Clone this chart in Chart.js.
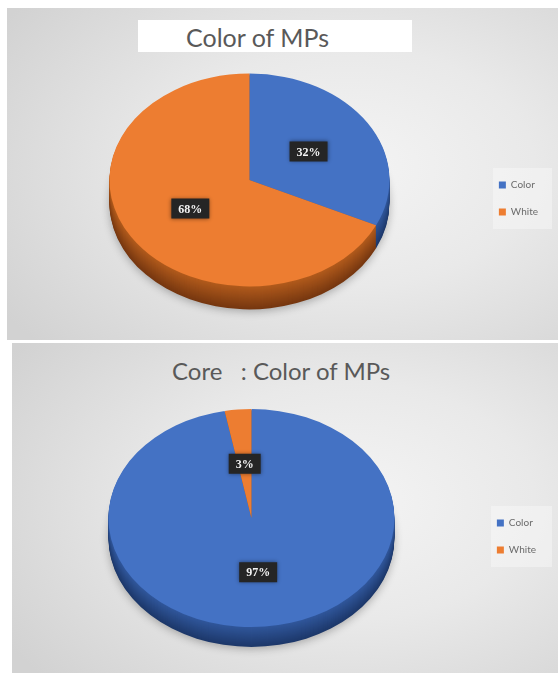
<!DOCTYPE html>
<html>
<head>
<meta charset="utf-8">
<script src="https://cdn.jsdelivr.net/npm/chart.js@4.4.1/dist/chart.umd.min.js"></script>
<style>
  html, body { margin: 0; padding: 0; background: #fff; }
  body { width: 558px; height: 673px; position: relative; overflow: hidden; font-family: Lato, sans-serif; }
  .panel {
    position: absolute;
    background: radial-gradient(ellipse 75% 80% at 62% 48%, #f4f4f4 0%, #e9e9e9 45%, #d2d2d2 100%);
  }
  #p1 { left: 7px; top: 8px; width: 551px; height: 332px; }
  #p2 { left: 12px; top: 343px; width: 546px; height: 330px; }
  .panel canvas { position: absolute; left: 0; top: 0; }
  .title { position: absolute; color: #595959; white-space: pre; }
  #t1 { left: 131px; top: 12px; width: 226px; height: 32px; padding-left: 48px; background: #fff; font-size: 25px; line-height: 34px; }
  #t2 { left: 160px; top: 13px; font-size: 24px; line-height: 30px; }
</style>
</head>
<body>
<div class="panel" id="p1">
  <div class="title" id="t1">Color of MPs</div>
  <canvas id="allChart" width="551" height="332"></canvas>
</div>
<div class="panel" id="p2">
  <div class="title" id="t2">Core   : Color of MPs</div>
  <canvas id="coreChart" width="546" height="340"></canvas>
</div>
<script>
const categories = ["Color", "White"];
const allValues = [32, 68];
const coreValues = [97, 3];

const sliceColors = ["#4472C4", "#ED7D31"];
const sideTop = ["#30569a", "#b05a1c"];
const sideBottom = ["#1d386a", "#763710"];

function mix(a, b, t) {
  const pa = [1, 3, 5].map(i => parseInt(a.substr(i, 2), 16));
  const pb = [1, 3, 5].map(i => parseInt(b.substr(i, 2), 16));
  const c = pa.map((v, i) => Math.round(v + (pb[i] - v) * t));
  return "rgb(" + c.join(",") + ")";
}

// squashes the pie into an ellipse and gives it a side wall
const tiltPlugin = {
  id: "tilt",
  beforeDraw(chart) {
    // faint box behind the legend
    const hb = chart.legend.legendHitBoxes;
    if (!hb || !hb.length) return;
    const ctx = chart.ctx;
    const top = hb[0].top - 12;
    const bottom = hb[hb.length - 1].top + hb[hb.length - 1].height + 12;
    ctx.save();
    ctx.fillStyle = "rgba(255,255,255,0.35)";
    ctx.fillRect(hb[0].left - 6, top, chart.width - hb[0].left, bottom - top);
    ctx.restore();
  },
  beforeDatasetsDraw(chart, args, opts) {
    const { ctx, chartArea } = chart;
    const arcs = chart.getDatasetMeta(0).data;
    const cy = (chartArea.top + chartArea.bottom) / 2;
    ctx.save();
    ctx.translate(0, cy + opts.shiftY);
    ctx.scale(1, opts.ratio);
    ctx.translate(0, -cy);
    for (let d = opts.depth; d >= 1; d--) {
      const t = (d - 1) / (opts.depth - 1);
      ctx.save();
      if (d === opts.depth) {
        ctx.shadowColor = "rgba(0,0,0,0.28)";
        ctx.shadowBlur = 9;
        ctx.shadowOffsetY = 2;
      }
      arcs.forEach((arc, i) => {
        const y = arc.y + d / opts.ratio;
        ctx.fillStyle = mix(sideTop[i], sideBottom[i], t);
        ctx.beginPath();
        ctx.moveTo(arc.x, y);
        ctx.arc(arc.x, y, arc.outerRadius, arc.startAngle, arc.endAngle);
        ctx.closePath();
        ctx.fill();
      });
      ctx.restore();
    }
  },
  afterDatasetsDraw(chart, args, opts) {
    const { ctx, chartArea } = chart;
    ctx.restore();
    const cy = (chartArea.top + chartArea.bottom) / 2;
    const values = chart.data.datasets[0].data;
    chart.getDatasetMeta(0).data.forEach((arc, i) => {
      const p = arc.tooltipPosition();
      const x = p.x;
      const y = cy + opts.shiftY + (p.y - cy) * opts.ratio;
      const text = values[i] + "%";
      ctx.save();
      ctx.font = "bold 12px 'Liberation Serif'";
      const w = ctx.measureText(text).width + 14;
      const h = 20;
      ctx.shadowColor = "rgba(0,0,0,0.45)";
      ctx.shadowBlur = 4;
      ctx.fillStyle = "#252525";
      ctx.fillRect(x - w / 2, y - h / 2, w, h);
      ctx.shadowColor = "transparent";
      ctx.fillStyle = "#f4f4f4";
      ctx.textAlign = "center";
      ctx.textBaseline = "middle";
      ctx.fillText(text, x, y + 1);
      ctx.restore();
    });
  }
};

function makePie(id, values, padding, tilt) {
  return new Chart(document.getElementById(id), {
    type: "pie",
    data: {
      labels: categories,
      datasets: [{
        data: values,
        backgroundColor: sliceColors,
        borderWidth: 0,
        hoverOffset: 0,
        clip: false
      }]
    },
    options: {
      responsive: false,
      animation: false,
      events: [],
      layout: { padding: padding },
      plugins: {
        tooltip: { enabled: false },
        legend: {
          position: "right",
          align: "center",
          labels: {
            boxWidth: 7,
            boxHeight: 7,
            padding: 17,
            color: "#6b6b6b",
            font: { family: "Lato", size: 10 }
          }
        },
        tilt: tilt
      }
    },
    plugins: [tiltPlugin]
  });
}

makePie("allChart", allValues,
  { top: 50.5, bottom: 1.5, left: 10, right: 10 },
  { ratio: 0.76, depth: 23, shiftY: -18.5 });

makePie("coreChart", coreValues,
  { top: 50.5, bottom: 3.5, left: 11, right: 12 },
  { ratio: 0.762, depth: 20, shiftY: -18.5 });
</script>
</body>
</html>
